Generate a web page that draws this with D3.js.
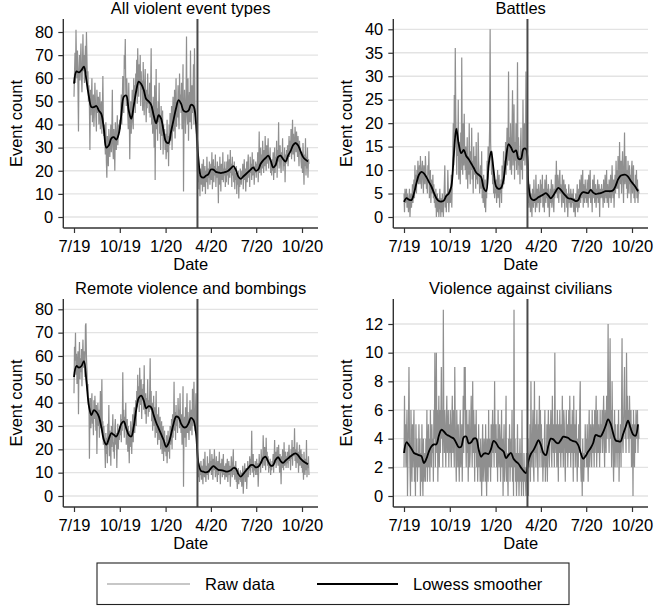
<!DOCTYPE html>
<html><head><meta charset="utf-8">
<script src="https://cdn.jsdelivr.net/npm/d3@7"></script>
<style>
body{margin:0;background:#fff}
svg{display:block}
text{font-family:"Liberation Sans",Arial,Helvetica,sans-serif;fill:#000}
</style>
</head><body>
<svg id="chart" width="661" height="606"></svg>
<script>
// ---------------- DATA ----------------
const startDate = "2019-07-01";      // first daily observation
const eventDate = "2020-03-05";      // vertical reference line
const smoothStep = 5;                // smoother sampled every 5 days
const xTickDates = ["2019-07-01","2019-10-01","2020-01-01","2020-04-01","2020-07-01","2020-10-01"];
const panelTitles = ["All violent event types","Battles","Remote violence and bombings","Violence against civilians"];
const yTicksAll = [0,10,20,30,40,50,60,70,80];
const yTicksBattles = [0,5,10,15,20,25,30,35,40];
const yTicksRemote = [0,10,20,30,40,50,60,70,80];
const yTicksCivilians = [0,2,4,6,8,10,12];
const legendLabels = ["Raw data","Lowess smoother"];

const rawAll = [
52,62,71,58,81,66,60,72,55,37,64,70,59,68,75,61,54,66,79,63,70,58,67,74,62,80,69,55,63,50,57,
47,29,55,44,52,60,41,48,53,39,46,58,50,43,37,55,49,45,52,40,47,54,38,44,50,36,46,61,42,35,40,
33,27,41,24,17,35,29,22,38,31,26,34,40,28,36,55,30,25,38,33,20,41,35,29,37,44,31,36,40,39,
42,38,47,53,40,50,61,58,45,70,64,77,55,48,60,52,44,38,58,46,25,40,50,36,47,55,41,38,60,52,57,
45,62,55,68,49,73,60,52,66,57,70,48,63,55,59,46,67,52,44,58,64,50,41,55,47,62,49,53,45,58,
43,55,73,40,48,36,52,45,30,57,16,42,64,38,47,33,50,41,58,36,44,29,48,39,35,46,27,40,33,38,29,
36,25,30,42,28,35,22,40,31,45,33,38,48,29,44,52,37,41,55,34,47,60,39,50,43,57,46,38,62,49,53,
45,58,38,50,66,11,42,55,47,36,51,78,44,40,60,33,48,54,41,72,46,38,57,45,52,66,40,73,49,
45,38,34,28,20,15,24,12,18,9,21,16,14,23,11,19,25,13,17,22,10,20,15,26,18,12,21,17,24,14,19,
23,16,28,12,20,25,15,22,18,27,13,21,17,24,19,6,22,14,26,18,11,23,20,16,28,15,21,18,24,13,
21,15,24,18,27,14,20,25,17,29,19,23,13,26,18,21,15,24,12,19,16,22,10,18,14,20,8,17,13,21,16,
14,20,17,23,12,19,25,16,21,11,18,24,15,22,27,17,20,13,26,19,23,16,28,18,21,25,14,22,19,24,
17,23,20,28,15,22,37,19,25,30,18,27,21,33,24,19,29,22,35,26,20,31,23,28,34,21,27,25,30,19,24,
18,25,20,28,16,23,30,19,26,22,33,17,29,24,41,21,27,31,23,19,28,25,34,20,26,22,30,15,27,23,29,
24,31,22,28,35,26,33,29,38,25,32,42,27,36,30,24,39,34,28,37,31,26,35,29,22,33,27,30,24,21,
28,19,32,24,14,27,22,34,18,26,21,30,17,25,23];

const smoothAll = [57.7,63,62.5,63.5,65,59,52,47.5,47.5,48,46,44.5,38,30,31,34,34.5,33.5,36,44,
52,52.5,46,42.5,48,54.5,58.5,57.5,55,51,50,48.5,44,40.5,44,42.5,37,32.5,32,37,
42,47,50.5,49,46,45.5,46,48.5,48,41,25,17.5,17,17.8,18.5,20.5,20.5,19.5,19.2,19,
19.2,19.5,20,21,22,20.5,17.5,16.5,17.5,18.5,19.5,20.5,21.5,20,20.5,23,24.5,25.5,26.5,24.5,
21.5,22.5,26,26.5,25,24,26.5,28.5,31,32,31,28.5,26,24.8,24];

const rawBattles = [
5,1,6,3,4,6,2,5,3,1,4,6,0,3,5,2,4,7,3,6,8,4,11,6,9,5,10,8,12,7,9,
11,7,13,9,6,10,12,8,5,11,9,7,13,10,6,8,5,11,9,14,4,7,10,3,8,6,5,9,4,7,3,
4,2,6,0,3,5,1,4,0,2,6,3,0,4,1,5,2,0,3,7,11,2,4,1,5,3,10,6,1,4,
6,3,5,9,2,8,14,20,11,26,17,36,22,15,9,19,13,25,8,16,12,7,18,10,34,14,9,20,11,22,13,
10,15,8,12,17,6,13,9,20,11,7,14,10,19,8,12,5,15,9,11,13,6,16,8,10,7,18,12,9,5,
8,11,6,14,4,7,3,9,5,2,8,1,6,4,12,8,15,10,13,19,40,16,12,9,14,7,10,5,8,4,6,
5,8,3,7,10,4,6,9,2,7,5,8,3,11,6,9,14,7,12,10,16,9,13,19,11,15,31,12,17,10,20,
13,9,18,27,11,15,24,8,16,12,20,10,14,33,9,17,11,13,7,15,19,10,14,8,25,12,16,20,11,
14,31,18,9,5,3,6,2,4,7,1,5,3,0,6,4,2,8,3,5,1,9,4,2,6,3,7,5,1,4,8,
3,7,5,9,2,4,6,1,8,5,3,9,4,6,2,7,5,0,4,6,3,8,2,5,7,3,1,6,4,9,
5,12,7,4,9,6,3,8,10,5,7,4,2,9,6,3,8,5,1,7,4,6,2,5,0,4,7,3,5,2,6,
4,2,5,3,6,1,4,3,0,5,2,4,7,1,3,6,2,8,5,3,9,4,6,10,2,7,5,3,8,4,
6,3,8,5,2,9,4,7,10,3,6,5,1,8,4,6,9,3,5,7,2,6,4,8,3,5,7,0,6,4,5,
7,4,6,2,8,5,3,9,6,4,10,3,7,5,2,8,6,4,9,3,5,11,6,4,8,2,7,9,5,12,6,
10,6,13,8,4,16,9,7,12,5,10,14,8,3,11,18,7,9,13,6,10,4,12,8,5,11,7,9,3,10,
12,5,8,11,4,7,3,9,6,10,4,8,3,6,5];

const smoothBattles = [3.2,4.0,3.7,3.6,5.0,7.2,9.0,9.6,9.3,8.5,7.5,6.5,5.2,4.0,3.4,3.3,3.5,4.5,5.0,6.5,
13,18.8,15.5,13.6,14.3,13.0,12.3,11.4,10.5,9.5,9.0,8.5,6.2,5.5,11.1,14.0,10.0,6.5,6.0,6.2,
8.0,12.5,15.5,14.8,13.8,14.2,12.4,12.4,14.5,14.5,6.9,4.0,3.6,3.8,4.2,4.5,4.8,5.1,4.6,4.0,
4.6,5.5,6.2,5.8,5.1,4.5,4.0,3.9,3.7,3.4,3.6,4.8,5.3,5.2,5.1,5.8,5.2,4.9,5.0,5.1,
5.3,5.5,5.5,5.5,5.7,6.6,8.0,8.8,9.0,9.0,8.6,7.8,7.1,6.4,5.5];

const rawRemote = [
44,64,58,70,52,61,48,56,62,35,57,66,50,59,53,63,47,60,67,55,62,58,51,73,74,60,54,45,48,39,42,
16,35,42,29,38,44,31,37,26,41,33,43,36,28,39,18,34,40,30,37,25,33,45,29,36,50,27,32,22,30,24,
20,12,27,18,25,14,31,22,39,17,28,24,13,30,21,26,35,19,23,16,29,33,22,27,12,25,31,20,28,24,
30,26,35,23,33,28,53,31,37,25,34,29,40,22,27,33,19,30,24,14,28,21,32,26,18,29,35,23,31,38,27,
34,41,30,45,38,52,40,47,36,55,44,39,50,33,46,42,48,37,56,40,35,44,31,42,38,50,34,41,36,44,
59,37,45,32,40,28,36,43,30,38,25,33,45,27,35,22,31,38,24,29,34,20,27,32,18,26,30,15,24,28,19,
23,17,26,14,21,28,19,24,16,30,22,27,33,20,35,25,31,49,28,36,24,39,30,34,27,42,33,37,29,44,32,
27,35,22,31,47,4,29,34,25,38,21,32,44,27,36,30,24,33,41,28,35,37,26,46,30,39,49,33,28,
36,44,29,25,18,12,8,14,6,11,9,15,7,13,10,5,16,12,8,19,10,6,13,9,17,11,7,14,10,20,12,
15,9,18,13,7,16,11,20,14,8,12,17,10,6,15,9,13,19,11,5,14,10,16,8,12,18,9,13,7,11,
14,8,12,16,6,11,15,9,13,4,10,17,12,8,14,20,9,13,7,11,15,6,10,3,8,12,5,9,7,11,6,
10,4,8,13,1,7,11,14,6,9,12,3,10,15,8,13,11,17,9,16,12,28,10,14,18,8,13,11,15,9,
12,16,9,14,4,11,18,13,15,10,20,14,17,12,26,18,13,21,16,11,25,15,19,13,17,10,14,12,16,9,13,
11,15,13,18,10,16,24,14,19,12,17,21,15,13,22,16,10,18,14,5,17,12,20,15,11,23,13,16,19,12,17,
14,19,12,18,22,15,17,11,20,16,24,13,19,21,17,29,15,20,12,18,23,14,19,10,17,22,13,16,20,12,
18,10,15,7,19,13,9,16,11,24,8,14,12,17,9];

const smoothRemote = [51,55.7,55,55.7,57.8,49,38.5,34.7,36.8,36,34,29.5,24,22,24.5,26.9,26.2,25.5,27.6,31,
32,29,26.2,25.5,29.7,37,42,43,41,37.6,38.5,38,34.7,31.5,29,26.5,24,21.1,22.6,26.5,
31,34,33.7,31,29.5,29.5,31.1,33.5,32.5,27,14,10.8,10.4,10.1,10.5,11.8,12.8,12,11.2,11.1,
10.9,10.5,10.6,11,12,11.8,9.5,8.3,9.5,10.8,12,13.2,13.2,12.3,12.5,14,16.2,16.8,14.8,13,
13.2,15.5,16.6,15,14.2,15.2,16.1,17,17.8,18.3,17.5,16,15,14.2,13.6];

const rawCivilians = [
2,7,3,5,2,4,6,0,3,5,9,4,2,0,6,3,1,5,2,4,6,1,3,0,5,2,4,1,3,2,5,
2,4,0,3,1,5,2,0,4,1,2,3,1,4,2,6,1,3,5,2,4,1,6,3,2,5,3,4,1,6,4,
10,2,5,10,3,6,1,4,7,2,6,3,5,9,4,6,2,13,5,3,6,4,2,5,7,3,4,6,2,5,
3,6,4,2,5,7,3,6,4,2,9,5,3,1,6,4,2,5,3,1,4,6,2,3,5,1,4,7,3,9,6,
9,4,2,6,3,5,1,4,6,2,3,5,7,4,2,8,3,6,4,1,5,3,6,2,4,1,3,5,2,3,
1,4,2,0,3,5,1,2,4,3,1,5,2,0,4,3,1,6,2,4,3,1,5,2,4,6,3,5,2,8,4,
3,5,2,4,1,6,3,2,5,4,1,3,6,2,4,0,3,5,1,2,4,7,1,3,2,0,4,2,5,1,3,
4,2,6,1,3,0,13,2,4,1,3,0,2,5,1,3,0,2,4,1,3,0,6,1,2,0,3,1,2,
1,0,3,1,2,4,0,3,2,5,1,8,3,2,4,6,2,1,8,3,5,2,4,6,3,1,5,4,7,2,6,
3,5,2,4,1,3,2,4,6,1,3,2,5,1,4,6,3,2,5,4,6,3,2,7,4,3,5,2,10,4,
3,5,2,6,4,1,5,3,6,4,2,5,3,7,4,2,6,5,3,1,4,6,3,5,2,4,6,3,7,4,2,
5,3,6,4,1,7,3,5,2,4,6,3,1,4,2,5,3,6,8,2,1,3,0,4,2,1,3,2,5,3,
4,2,5,3,1,4,6,2,3,5,4,2,6,3,5,4,2,6,3,5,7,2,4,6,3,5,4,2,6,3,5,
4,6,3,5,7,4,2,6,5,3,7,4,6,12,5,3,7,11,4,6,2,8,5,3,1,4,6,2,5,3,4,
2,5,3,6,1,4,3,5,2,6,11,4,3,5,7,9,4,6,3,10,5,7,4,6,3,7,5,4,6,2,
3,5,0,6,4,2,5,3,6,4,5,6,3,5,4];

const smoothCivilians = [3.0,3.75,3.55,3.3,3.0,2.92,2.85,2.78,2.3,2.6,3.1,3.45,3.6,3.6,4.2,4.62,4.5,4.3,4.2,4.1,
4.0,3.7,3.4,3.45,4.1,4.15,3.67,3.75,4.0,4.0,3.25,2.74,2.95,2.98,2.93,3.3,3.85,3.7,3.4,3.25,
3.1,2.65,2.86,3.0,2.6,2.4,2.25,1.98,1.75,1.6,2.45,2.95,3.2,3.55,3.9,3.55,3.0,2.85,3.5,4.0,
3.95,3.75,3.68,3.9,4.14,4.1,4.05,3.9,3.83,3.79,3.55,3.0,2.6,2.8,3.1,3.35,3.7,4.25,4.2,4.15,
4.45,4.9,5.35,5.05,4.4,3.88,3.82,3.8,4.3,4.8,5.26,4.75,4.3,4.2,5.0];

// ---------------- LAYOUT ----------------
const svg = d3.select("#chart");
const FONT = 16.5;
const parse = d3.timeParse("%Y-%m-%d");
const t0 = parse(startDate);
const cols = [{left:63.3, right:318}, {left:393.3, right:648}];
const rows = [{top:19, bottom:228}, {top:299, bottom:507}];

const panels = [
  {title:panelTitles[0], raw:rawAll, smooth:smoothAll, ticks:yTicksAll, col:0,row:0, y0:217, yTop:32, vTop:80},
  {title:panelTitles[1], raw:rawBattles, smooth:smoothBattles, ticks:yTicksBattles, col:1,row:0, y0:217, yTop:29.3, vTop:40},
  {title:panelTitles[2], raw:rawRemote, smooth:smoothRemote, ticks:yTicksRemote, col:0,row:1, y0:496, yTop:309.3, vTop:80},
  {title:panelTitles[3], raw:rawCivilians, smooth:smoothCivilians, ticks:yTicksCivilians, col:1,row:1, y0:496, yTop:324, vTop:12}
];

const axisColor = "#333";

panels.forEach(p => {
  const c = cols[p.col], r = rows[p.row];
  const dx = c.left - 63.3;
  const x = d3.scaleTime()
    .domain([parse(xTickDates[0]), parse(xTickDates[xTickDates.length-1])])
    .range([74 + dx, 302 + dx]);
  const y = d3.scaleLinear().domain([0, p.vTop]).range([p.y0, p.yTop]);
  const g = svg.append("g");

  // grid
  g.selectAll("line.grid").data(p.ticks).enter().append("line")
    .attr("x1", c.left).attr("x2", c.right)
    .attr("y1", d => y(d)).attr("y2", d => y(d))
    .attr("stroke", "#e3e3e3").attr("stroke-width", 1.3);

  // raw
  const rawLine = d3.line()
    .x((d,i) => x(d3.timeDay.offset(t0, i)))
    .y(d => y(d));
  g.append("path").datum(p.raw).attr("d", rawLine)
    .attr("fill","none").attr("stroke","#8f8f8f").attr("stroke-width",1.2);

  // smoother
  const smLine = d3.line()
    .x((d,i) => x(d3.timeDay.offset(t0, i*smoothStep)))
    .y(d => y(d))
    .curve(d3.curveCatmullRom.alpha(0.5));
  g.append("path").datum(p.smooth).attr("d", smLine)
    .attr("fill","none").attr("stroke","#000").attr("stroke-width",1.8)
    .attr("stroke-linejoin","round");

  // event line
  const ex = x(parse(eventDate));
  g.append("line").attr("x1",ex).attr("x2",ex).attr("y1",r.top).attr("y2",r.bottom)
    .attr("stroke","#4a4a4a").attr("stroke-width",2);

  // x axis
  const xAxis = d3.axisBottom(x)
    .tickValues(xTickDates.map(parse))
    .tickFormat(d3.timeFormat("%-m/%y"))
    .tickSize(5).tickSizeOuter(0).tickPadding(7);
  const xa = g.append("g").attr("transform",`translate(0,${r.bottom})`).call(xAxis);
  xa.select(".domain").attr("d", `M${c.left},0H${c.right}`).attr("stroke",axisColor).attr("stroke-width",1.4);
  xa.selectAll(".tick line").attr("stroke",axisColor).attr("stroke-width",1.2);
  xa.selectAll(".tick text").attr("font-size",FONT).attr("font-family","Liberation Sans, Arial, sans-serif").attr("fill","#000");

  // y axis
  const yAxis = d3.axisLeft(y).tickValues(p.ticks).tickSize(5).tickSizeOuter(0).tickPadding(5);
  const ya = g.append("g").attr("transform",`translate(${c.left},0)`).call(yAxis);
  ya.select(".domain").attr("d", `M0,${r.top}V${r.bottom}`).attr("stroke",axisColor).attr("stroke-width",1.4);
  ya.selectAll(".tick line").attr("stroke",axisColor).attr("stroke-width",1.2);
  ya.selectAll(".tick text").attr("font-size",FONT).attr("font-family","Liberation Sans, Arial, sans-serif").attr("fill","#000");

  const cx = (c.left + c.right)/2;
  // title
  g.append("text").attr("x",cx).attr("y",r.top-5.3).attr("text-anchor","middle")
    .attr("font-size",FONT).text(p.title);
  // x title
  g.append("text").attr("x",cx).attr("y",r.bottom+42).attr("text-anchor","middle")
    .attr("font-size",FONT).text("Date");
  // y title
  const cy = (r.top + r.bottom)/2;
  g.append("text").attr("transform",`translate(${c.left-41},${cy}) rotate(-90)`)
    .attr("text-anchor","middle").attr("font-size",FONT).text("Event count");
});

// legend
const lg = svg.append("g");
lg.append("rect").attr("x",97).attr("y",563).attr("width",472).attr("height",41.5)
  .attr("fill","#fff").attr("stroke","#222").attr("stroke-width",1.1);
lg.append("line").attr("x1",107).attr("x2",190).attr("y1",584).attr("y2",584)
  .attr("stroke","#8f8f8f").attr("stroke-width",1.2);
lg.append("text").attr("x",205).attr("y",590).attr("font-size",FONT).text(legendLabels[0]);
lg.append("line").attr("x1",317).attr("x2",398).attr("y1",584).attr("y2",584)
  .attr("stroke","#000").attr("stroke-width",1.8);
lg.append("text").attr("x",413).attr("y",590).attr("font-size",FONT).text(legendLabels[1]);
</script>
</body></html>
